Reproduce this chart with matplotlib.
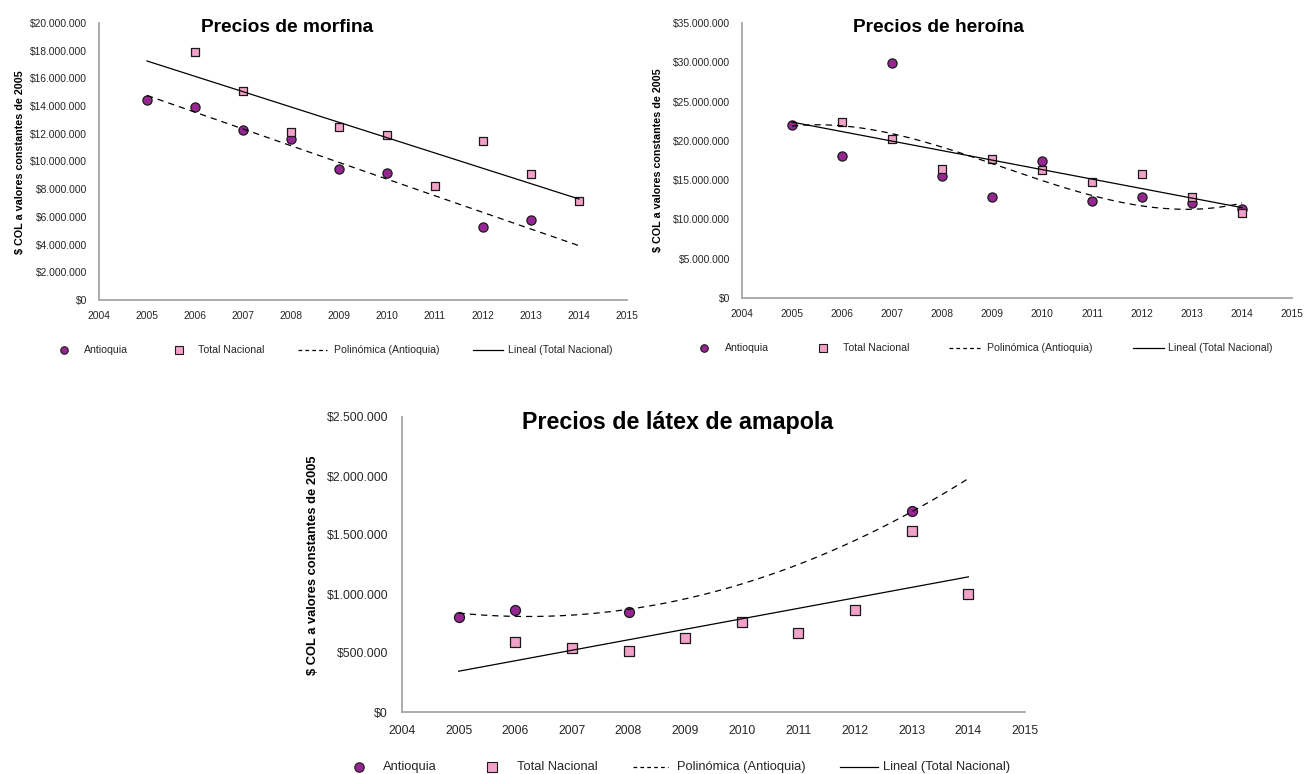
import numpy as np
import matplotlib
matplotlib.use('Agg')
import matplotlib.pyplot as plt
from matplotlib import font_manager
from matplotlib.ticker import FuncFormatter, MultipleLocator

# ---------------- data ----------------
years_tn = [2006, 2007, 2008, 2009, 2010, 2011, 2012, 2013, 2014]
xticks = list(range(2004, 2016))

mor_ant_years = [2005, 2006, 2007, 2008, 2009, 2010, 2012, 2013]
mor_ant = [14460000, 13900000, 12250000, 11600000, 9430000, 9200000, 5300000, 5780000]
mor_tn = [17880000, 15090000, 12130000, 12500000, 11900000, 8250000, 11480000, 9100000, 7150000]

her_ant_years = [2005, 2006, 2007, 2008, 2009, 2010, 2011, 2012, 2013, 2014]
her_ant = [22000000, 18030000, 29900000, 15560000, 12800000, 17400000, 12330000, 12800000, 12040000, 11270000]
her_tn = [22370000, 20200000, 16420000, 17650000, 16290000, 14720000, 15780000, 12880000, 10770000]

lat_ant_years = [2005, 2006, 2008, 2013]
lat_ant = [805000, 867000, 844000, 1700000]
lat_tn = [593000, 542000, 520000, 627000, 763000, 666000, 861000, 1536000, 1000000]

titles = ["Precios de morfina", "Precios de heroína", "Precios de látex de amapola"]
ylabel = "$ COL a valores constantes de 2005"
legend_labels = ["Antioquia", "Total Nacional", "Polinómica (Antioquia)", "Lineal (Total Nacional)"]

# ---------------- style ----------------
names = {f.name for f in font_manager.fontManager.ttflist}
if 'Liberation Sans Narrow' in names:
    FONT, K = 'Liberation Sans Narrow', 1.0
else:
    FONT, K = 'Liberation Sans', 0.84
plt.rcParams['font.family'] = [FONT, 'DejaVu Sans']

C_ANT = '#962691'
C_TN = '#F2A2C9'
EDGE = '#1a1a1a'
SPINE = '#A6A6A6'
TXT = '#262626'

W, H = 1307, 774
fig = plt.figure(figsize=(W / 100, H / 100), dpi=100)


def px_axes(l, t, r, b):
    return fig.add_axes([l / W, 1 - b / H, (r - l) / W, (b - t) / H])


def money(v, _):
    return '$' + f'{v:,.0f}'.replace(',', '.')


def panel(ax, ant_x, ant_y, tn_y, ymax, ystep, poly_deg, fs_tick, ms, ypad, xpad):
    ax.scatter(ant_x, ant_y, s=ms ** 2, marker='o', facecolor=C_ANT, edgecolor=EDGE,
               linewidth=0.9, zorder=3)
    ax.scatter(years_tn, tn_y, s=(ms * 0.95) ** 2, marker='s', facecolor=C_TN, edgecolor=EDGE,
               linewidth=0.9, zorder=4)
    xs = np.linspace(2005, 2014, 200)
    p = np.polynomial.Polynomial.fit(ant_x, ant_y, poly_deg)
    ax.plot(xs, p(xs), color='black', lw=0.9, ls=(0, (5, 4)), zorder=5)
    l = np.polynomial.Polynomial.fit(years_tn, tn_y, 1)
    ax.plot(xs, l(xs), color='black', lw=0.9, zorder=5)
    ax.set_xlim(2004, 2015)
    ax.set_ylim(0, ymax)
    ax.set_xticks(xticks)
    ax.yaxis.set_major_locator(MultipleLocator(ystep))
    ax.yaxis.set_major_formatter(FuncFormatter(money))
    for s in ['top', 'right']:
        ax.spines[s].set_visible(False)
    for s in ['left', 'bottom']:
        ax.spines[s].set_color(SPINE)
        ax.spines[s].set_linewidth(1.3)
    ax.tick_params(axis='y', length=0, pad=ypad, labelsize=fs_tick * K, labelcolor=TXT)
    ax.tick_params(axis='x', length=0, pad=xpad, labelsize=fs_tick * K, labelcolor=TXT)
    ax.patch.set_alpha(0)


ax1 = px_axes(99, 23, 627, 300)
panel(ax1, mor_ant_years, mor_ant, mor_tn, 20000000, 2000000, 2, 8.8, 6.6, 8.5, 8)
ax2 = px_axes(742, 23, 1292, 298)
panel(ax2, her_ant_years, her_ant, her_tn, 35000000, 5000000, 3, 8.8, 6.6, 8.5, 8)
ax3 = px_axes(402, 417, 1025, 712)
panel(ax3, lat_ant_years, lat_ant, lat_tn, 2500000, 500000, 2, 10.5, 7.2, 10, 9.5)

# overlay for titles, axis titles and legends (pixel coordinates)
ov = fig.add_axes([0, 0, 1, 1])
ov.set_xlim(0, W)
ov.set_ylim(H, 0)
ov.axis('off')
ov.patch.set_alpha(0)

ov.text(287, 31.7, titles[0], ha='center', va='baseline', fontsize=16.4 * K, fontweight='bold', color='black')
ov.text(938, 31.7, titles[1], ha='center', va='baseline', fontsize=16.4 * K, fontweight='bold', color='black')
ov.text(677.5, 429.3, titles[2], ha='center', va='baseline', fontsize=19.9 * K, fontweight='bold', color='black')

ov.text(20, 161.7, ylabel, rotation=90, ha='center', va='center', fontsize=9.2 * K, fontweight='bold', color='black')
ov.text(658.3, 160, ylabel, rotation=90, ha='center', va='center', fontsize=9.2 * K, fontweight='bold', color='black')
ov.text(312.7, 565, ylabel, rotation=90, ha='center', va='center', fontsize=11 * K, fontweight='bold', color='black')


def legend(y, pos, fs, ms):
    cx, tx1, sx, tx2, d0, d1, tx3, l0, l1, tx4 = pos
    ov.plot([cx], [y], marker='o', ms=ms, mfc=C_ANT, mec=EDGE, mew=0.8, ls='none')
    ov.plot([sx], [y], marker='s', ms=ms, mfc=C_TN, mec=EDGE, mew=0.8, ls='none')
    ov.plot([d0, d1], [y, y], color='black', lw=0.9, ls=(0, (3, 2.5)))
    ov.plot([l0, l1], [y, y], color='black', lw=0.9)
    for x, t in zip([tx1, tx2, tx3, tx4], legend_labels):
        ov.text(x, y, t, ha='left', va='center', fontsize=fs * K, color=TXT)


legend(350, (64, 84, 179, 198, 298, 327, 334, 473, 503, 508), 9.0, 5.4)
legend(348, (704, 725, 823, 843, 949, 980, 987, 1133, 1164, 1168), 9.0, 5.4)
legend(766.7, (359, 383, 492, 517, 633, 668, 677, 840, 878, 883), 11.0, 6.8)

fig.savefig('out.png', dpi=100)
